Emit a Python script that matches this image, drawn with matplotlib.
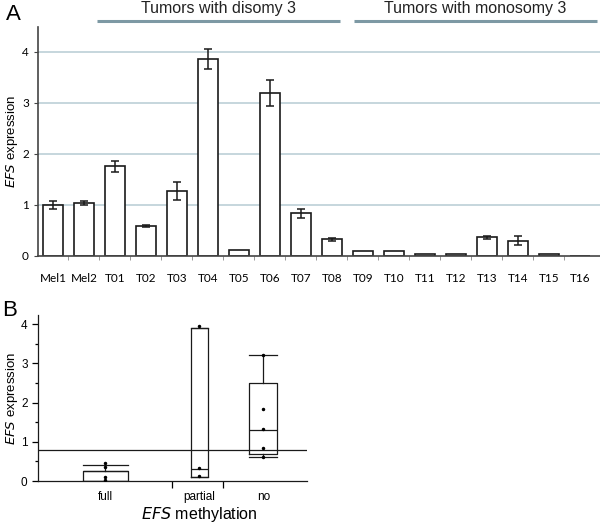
import numpy as np
import matplotlib
matplotlib.use('Agg')
import matplotlib.pyplot as plt

# panel A data
samples = ['Mel1', 'Mel2', 'T01', 'T02', 'T03', 'T04', 'T05', 'T06', 'T07',
           'T08', 'T09', 'T10', 'T11', 'T12', 'T13', 'T14', 'T15', 'T16']
expr = [1.00, 1.04, 1.76, 0.58, 1.28, 3.86, 0.12, 3.20, 0.84,
        0.33, 0.10, 0.10, 0.04, 0.04, 0.37, 0.30, 0.03, 0.00]
err = [0.07, 0.04, 0.11, 0.02, 0.18, 0.20, 0.0, 0.26, 0.09,
       0.03, 0.0, 0.0, 0.0, 0.0, 0.03, 0.09, 0.0, 0.0]
groups = ['Tumors with disomy 3', 'Tumors with monosomy 3']
group_line = [(1.42, 9.26), (9.71, 17.55)]

# panel B data
meth = ['full', 'partial', 'no']
q1 = [0.0, 0.10, 0.70]
med = [0.25, 0.30, 1.30]
q3 = [0.25, 3.90, 2.50]
whislo = [0.0, 0.10, 0.60]
whishi = [0.41, 3.90, 3.20]
pts = [[0.45, 0.35, 0.10, 0.02],
       [3.95, 0.33, 0.12],
       [3.22, 1.83, 1.33, 0.83, 0.62]]
cutoff = 0.8

fig = plt.figure(figsize=(6, 5.25), dpi=100)
dark = '#1a1a1a'

# ---- A
axA = fig.add_axes([38/600, 1-256/525, 562/600, 229/525])
x = np.arange(len(samples))
axA.set_xlim(-0.48, 17.65)
axA.set_ylim(0, 4.49)
for yv in [1, 2, 3, 4]:
    axA.axhline(yv, color='#c6d6dd', lw=1.4, zorder=0)
axA.bar(x, expr, 0.65, color='white', edgecolor=dark, lw=1.2, zorder=2)
m = np.array(err) > 0
axA.errorbar(x[m], np.array(expr)[m], yerr=np.array(err)[m], fmt='none',
             ecolor=dark, elinewidth=1.1, capsize=3, capthick=1.1, zorder=3)
for s in ['top', 'right']:
    axA.spines[s].set_visible(False)
for s in ['left', 'bottom']:
    axA.spines[s].set_color('#444444')
    axA.spines[s].set_linewidth(1.2)
axA.set_yticks([0, 1, 2, 3, 4])
axA.set_xticks(x)
axA.set_xticklabels(samples, fontsize=8.5, family='Lato')
axA.set_xticks(x[:-1] + 0.5, minor=True)
axA.tick_params(axis='x', which='major', length=0, pad=12)
axA.tick_params(axis='x', which='minor', length=3, color='#888888')
axA.tick_params(axis='y', length=3, labelsize=8.5, color='#444444')
for t in axA.get_yticklabels():
    t.set_family('Lato')
axA.set_ylabel('$\\it{EFS}$ expression', fontsize=9.5, family='Liberation Sans')
axA.yaxis.set_label_coords(-26/562, 0.5)
axA.yaxis.label.set_va('center')

trA = axA.get_xaxis_transform()
for name, (a, b) in zip(groups, group_line):
    axA.plot([a, b], [1 + 6/229, 1 + 6/229], transform=trA,
             color='#7d99a4', lw=2.2, clip_on=False, solid_capstyle='butt')
    axA.text((a + b) / 2, 1 + 18/229, name, transform=trA,
             ha='center', va='center', fontsize=11.5, family='Liberation Sans', color='#222222')

fig.text(6/600, 1-14/525, 'A', fontsize=16, family='Liberation Sans', va='center')
fig.text(2/600, 1-311/525, 'B', fontsize=16, family='Liberation Sans', va='center')

# ---- B
axB = fig.add_axes([38/600, 1-481/525, 269/600, 166/525])
pos = [1.0, 2.4, 3.35]
widths = [0.67, 0.25, 0.42]
stats = [dict(q1=q1[i], med=med[i], q3=q3[i], whislo=whislo[i], whishi=whishi[i],
              fliers=[], label=meth[i]) for i in range(3)]
lp = dict(color=dark, lw=0.9)
axB.bxp(stats, positions=pos, widths=widths, capwidths=widths,
        boxprops=lp, medianprops=lp, whiskerprops=lp, capprops=lp,
        showfliers=False, manage_ticks=False)
for p, ys in zip(pos, pts):
    axB.scatter([p] * len(ys), ys, s=2.2, color='black', zorder=4)
axB.axhline(cutoff, color=dark, lw=0.9)
axB.set_xlim(0, 4)
axB.set_ylim(0, 4.23)
for s in ['top', 'right']:
    axB.spines[s].set_visible(False)
for s in ['left', 'bottom']:
    axB.spines[s].set_linewidth(0.9)
    axB.spines[s].set_color(dark)
axB.set_xticks(pos)
axB.set_xticklabels(meth, fontsize=8.5, family='Liberation Sans')
axB.set_xticks([2.0, 2.75], minor=True)
axB.tick_params(axis='x', which='major', length=0, pad=7)
axB.tick_params(axis='x', which='minor', length=5, width=0.9)
axB.set_yticks([0, 1, 2, 3, 4])
axB.set_yticks([0.5, 1.5, 2.5, 3.5], minor=True)
axB.tick_params(axis='y', which='major', length=4, width=0.9, labelsize=8.5)
axB.tick_params(axis='y', which='minor', length=2.5, width=0.9)
for t in axB.get_yticklabels():
    t.set_family('Liberation Sans')
axB.set_ylabel('$\\it{EFS}$ expression', fontsize=9.5, family='Liberation Sans')
axB.yaxis.set_label_coords(-26/269, 0.5)
axB.yaxis.label.set_va('center')
axB.set_xlabel('$\\it{EFS}$ methylation', fontsize=11.5, family='Liberation Sans')
axB.xaxis.set_label_coords(0.60, -33/166)
axB.xaxis.label.set_va('center')

fig.savefig('out.png', dpi=100)
